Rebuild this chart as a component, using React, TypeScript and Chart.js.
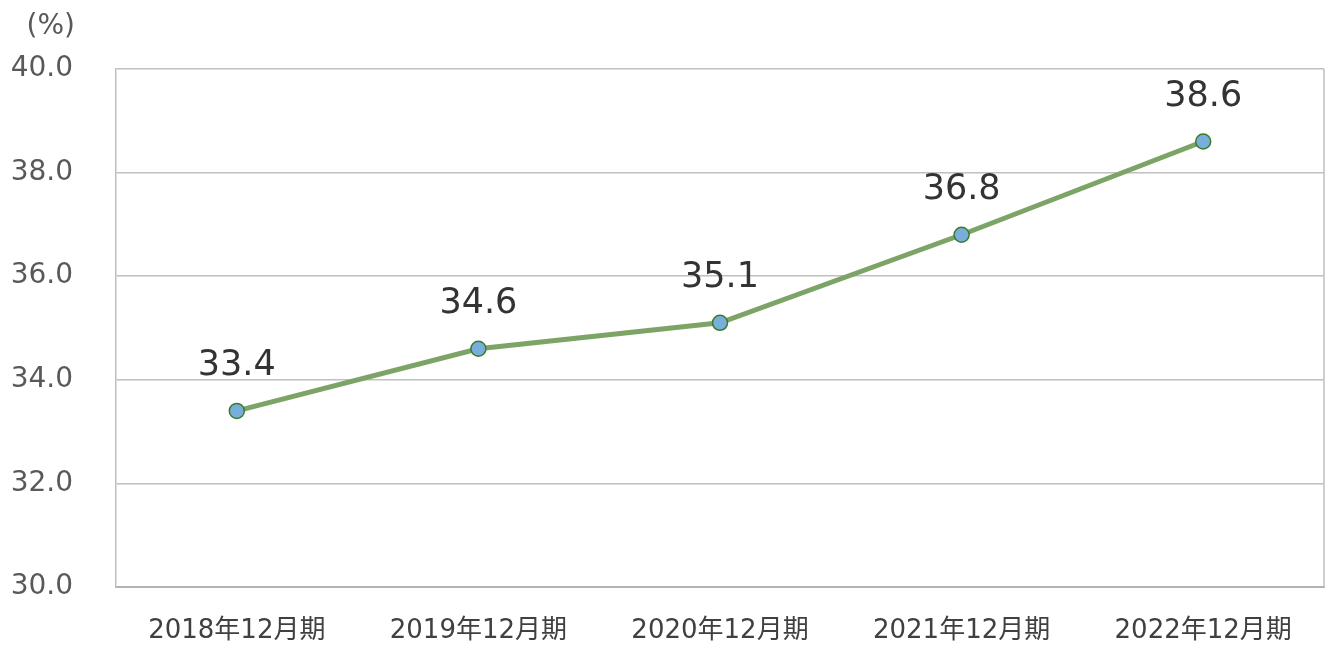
import React, { useEffect, useRef } from "react";
import { Chart, registerables } from "chart.js";

Chart.register(...registerables);

const categories = ["2018年12月期", "2019年12月期", "2020年12月期", "2021年12月期", "2022年12月期"];
const values = [33.4, 34.6, 35.1, 36.8, 38.6];
const unitLabel = "(%)";
const yMin = 30;
const yMax = 40;
const yStep = 2;

const labelPlugin = {
  id: "valueLabels",
  afterDatasetsDraw(chart: any) {
    const { ctx } = chart;
    const meta = chart.getDatasetMeta(0);
    ctx.save();
    ctx.font = "35px 'DejaVu Sans', sans-serif";
    ctx.fillStyle = "#333333";
    ctx.textAlign = "center";
    ctx.textBaseline = "middle";
    meta.data.forEach((pt: any, i: number) => {
      ctx.fillText(values[i].toFixed(1), pt.x, pt.y - 45);
    });
    ctx.restore();
  },
};

const framePlugin = {
  id: "frame",
  beforeDatasetsDraw(chart: any) {
    const { ctx, chartArea } = chart;
    ctx.save();
    ctx.strokeStyle = "#bfbfbf";
    ctx.lineWidth = 1.5;
    ctx.beginPath();
    ctx.moveTo(chartArea.right, chartArea.top);
    ctx.lineTo(chartArea.right, chartArea.bottom);
    ctx.stroke();
    ctx.restore();
  },
  afterDraw(chart: any) {
    const { ctx } = chart;
    ctx.save();
    ctx.font = "28px 'DejaVu Sans', sans-serif";
    ctx.fillStyle = "#595959";
    ctx.textAlign = "right";
    ctx.textBaseline = "middle";
    ctx.fillText(unitLabel, 75, 27);
    ctx.restore();
  },
};

export default function App() {
  const ref = useRef<HTMLCanvasElement>(null);
  useEffect(() => {
    if (!ref.current) return;
    const chart = new Chart(ref.current, {
      type: "line",
      data: {
        labels: categories,
        datasets: [
          {
            data: values,
            borderColor: "#7da467",
            borderWidth: 5,
            pointRadius: 7.5,
            pointBackgroundColor: "#78aedb",
            pointBorderColor: "#3f7a2a",
            pointBorderWidth: 1.5,
            tension: 0,
          },
        ],
      },
      options: {
        animation: false,
        responsive: false,
        maintainAspectRatio: false,
        layout: { padding: { top: 69, right: 16, left: 0, bottom: 0 } },
        plugins: { legend: { display: false }, tooltip: { enabled: false } },
        scales: {
          x: {
            offset: true,
            grid: { display: false, drawTicks: false },
            border: { display: true, color: "#b3b3b3", width: 2 },
            ticks: {
              padding: 29,
              color: "#404040",
              font: { family: "'DejaVu Sans', 'Noto Sans CJK JP', sans-serif", size: 26 },
              maxRotation: 0,
            },
            afterFit(scale: any) {
              scale.height = 75;
            },
          },
          y: {
            min: yMin,
            max: yMax,
            grid: { color: "#c0c0c0", lineWidth: 1.5, drawTicks: false },
            border: { display: true, color: "#bfbfbf", width: 1.5 },
            ticks: {
              stepSize: yStep,
              padding: 43,
              color: "#595959",
              font: { family: "'DejaVu Sans', sans-serif", size: 28 },
              callback: (v: any) => Number(v).toFixed(1),
            },
            afterFit(scale: any) {
              scale.width = 116;
            },
          },
        },
      },
      plugins: [labelPlugin, framePlugin],
    });
    return () => chart.destroy();
  }, []);
  return (
    <div style={{ position: "absolute", left: 0, top: 0, width: 1340, height: 662, background: "#ffffff" }}>
      <canvas ref={ref} width={1340} height={662} style={{ width: 1340, height: 662 }} />
    </div>
  );
}
